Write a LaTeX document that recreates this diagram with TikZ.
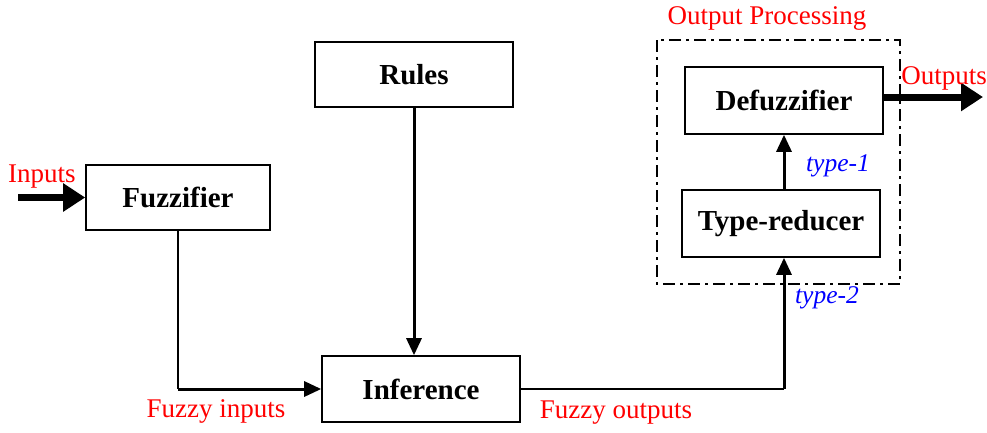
\documentclass[tikz,border=0pt]{standalone}
\usepackage{fontspec}
\setmainfont{Liberation Serif}
\usetikzlibrary{arrows.meta}
\begin{document}
\begin{tikzpicture}[x=1pt,y=-1pt,
  blk/.style={draw,line width=1.6pt,inner sep=0pt,font=\fontsize{29}{31}\selectfont\bfseries},
  lbl/.style={text=red,inner sep=0pt,font=\fontsize{27}{29}\selectfont},
  tlbl/.style={text=blue,inner sep=0pt,font=\fontsize{25.5}{27}\selectfont\itshape},
  conn/.style={line width=3pt,-{Triangle[length=17pt,width=15pt]}},
  fat/.style={line width=7pt,-{Triangle[length=22pt,width=27pt]}}]
\useasboundingbox (0,0) rectangle (987,432);
\node[blk,minimum width=198pt,minimum height=65pt] (rules) at (414,74.5) {Rules};
\node[blk,minimum width=184pt,minimum height=65pt] (fuzz) at (178,197.5) {Fuzzifier};
\node[blk,minimum width=198pt,minimum height=66pt] (inf) at (421,389) {Inference};
\node[blk,minimum width=198pt,minimum height=67pt] (def) at (784,100.5) {Defuzzifier};
\node[blk,minimum width=198pt,minimum height=67pt] (tr) at (781,223.5) {Type-reducer};
\draw[line width=2.6pt,dash pattern=on 12pt off 5pt on 3pt off 5pt] (657,40) rectangle (900,284);
\coordinate (inp) at (18,197.5);
\coordinate (outp) at (983,97);
\draw[fat] (inp) -- (fuzz.west);
\draw[fat] (def.east |- outp) -- (outp);
\draw[line width=2pt] (fuzz.south) -- (fuzz.south |- inf.west);
\draw[conn] (fuzz.south |- inf.west) -- (inf.west);
\draw[conn] (rules.south) -- (rules.south |- inf.north);
\draw[line width=2pt] (inf.east) -- (def.south |- inf.east);
\draw[conn] (def.south |- inf.east) -- (def.south |- tr.south);
\draw[conn] (def.south |- tr.north) -- (def.south);
\node[lbl] at (42,177) {Inputs};
\node[lbl] at (216,411) {Fuzzy inputs};
\node[lbl] at (616,413) {Fuzzy outputs};
\node[lbl] at (767,18) {Output Processing};
\node[lbl] at (944,78) {Outputs};
\node[tlbl] at (838,166) {type-1};
\node[tlbl] at (827,298) {type-2};
\end{tikzpicture}
\end{document}
